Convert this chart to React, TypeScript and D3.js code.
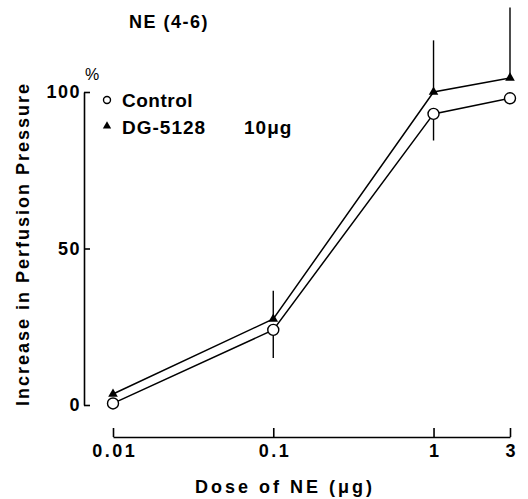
import React from 'react';
import * as d3 from 'd3';

const doses = [0.01, 0.1, 1, 3];
const doseLabels = ['0.01', '0.1', '1', '3'];
const controlValues = [0.5, 24, 93, 98];
const controlSem = [0, 9, 8.5, 0];
const dgValues = [3.5, 27.5, 100, 104.5];
const dgSem = [0, 9, 16.5, 22.5];
const yTicks = [0, 50, 100];

const FONT = '"Liberation Sans", Arial, Helvetica, sans-serif';

export default function App() {
	const ref = React.useRef<SVGSVGElement>(null);

	React.useEffect(() => {
		const svg = d3.select(ref.current);
		svg.selectAll('*').remove();

		const x = d3.scaleLog().domain([0.01, 3]).range([113, 510]);
		const y = d3.scaleLinear().domain([0, 100]).range([405, 92]);

		// title
		svg
			.append('text')
			.attr('x', 169)
			.attr('y', 28)
			.attr('text-anchor', 'middle')
			.attr('font-size', 18)
			.attr('font-weight', 'bold')
			.attr('letter-spacing', 1.5)
			.text('NE (4-6)');

		// y axis
		const yAxis = svg
			.append('g')
			.attr('transform', 'translate(84,0)')
			.call(
				d3
					.axisLeft(y)
					.tickValues(yTicks)
					.tickSize(-6)
					.tickSizeOuter(0)
					.tickPadding(3)
					.tickFormat((d) => String(d))
			);
		yAxis.select('.domain').attr('stroke-width', 1.6);
		yAxis.selectAll('.tick line').attr('stroke-width', 1.6);
		yAxis
			.selectAll('.tick text')
			.attr('font-size', 18)
			.attr('font-family', FONT)
			.attr('font-weight', 'bold')
			.attr('letter-spacing', 1.5)
			.attr('fill', '#000');

		svg
			.append('text')
			.attr('x', 92)
			.attr('y', 80)
			.attr('text-anchor', 'middle')
			.attr('font-size', 16)
			.text('%');

		// x axis
		const xAxis = svg
			.append('g')
			.attr('transform', 'translate(0,437)')
			.call(
				d3
					.axisBottom(x)
					.tickValues(doses)
					.tickSize(-9)
					.tickSizeOuter(0)
					.tickPadding(7)
					.tickFormat((d, i) => doseLabels[i])
			);
		xAxis.select('.domain').attr('stroke-width', 1.6);
		xAxis.selectAll('.tick line').attr('stroke-width', 1.6);
		xAxis
			.selectAll('.tick text')
			.attr('font-size', 18)
			.attr('font-family', FONT)
			.attr('font-weight', 'bold')
			.attr('letter-spacing', 2.5)
			.attr('dx', 1.2)
			.attr('fill', '#000');

		// axis labels
		svg
			.append('text')
			.attr('transform', 'translate(29,244) rotate(-90)')
			.attr('text-anchor', 'middle')
			.attr('font-size', 18)
			.attr('font-weight', 'bold')
			.attr('letter-spacing', 2)
			.text('Increase in Perfusion Pressure');

		svg
			.append('text')
			.attr('x', 285)
			.attr('y', 493)
			.attr('text-anchor', 'middle')
			.attr('font-size', 18)
			.attr('font-weight', 'bold')
			.attr('letter-spacing', 3)
			.text('Dose of NE (μg)');

		// legend
		const legend = svg.append('g');
		legend
			.append('circle')
			.attr('cx', 107)
			.attr('cy', 100)
			.attr('r', 3.5)
			.attr('fill', '#fff')
			.attr('stroke', '#000')
			.attr('stroke-width', 1.4);
		legend
			.append('text')
			.attr('x', 122)
			.attr('y', 107)
			.attr('font-size', 19)
			.attr('font-weight', 'bold')
			.attr('letter-spacing', 0.5)
			.text('Control');
		legend
			.append('path')
			.attr('transform', 'translate(107,126)')
			.attr('d', d3.symbol(d3.symbolTriangle, 30)());
		legend
			.append('text')
			.attr('x', 122)
			.attr('y', 134)
			.attr('font-size', 19)
			.attr('font-weight', 'bold')
			.attr('letter-spacing', 1)
			.text('DG-5128');
		legend
			.append('text')
			.attr('x', 244)
			.attr('y', 134)
			.attr('font-size', 19)
			.attr('font-weight', 'bold')
			.attr('letter-spacing', 1)
			.text('10μg');

		const plot = svg.append('g').attr('fill', 'none').attr('stroke', '#000');

		// error bars
		plot
			.selectAll('.err-dg')
			.data(doses.filter((d, i) => dgSem[i] > 0).map((d) => doses.indexOf(d)))
			.join('line')
			.attr('x1', (i) => x(doses[i]))
			.attr('x2', (i) => x(doses[i]))
			.attr('y1', (i) => y(dgValues[i]))
			.attr('y2', (i) => y(dgValues[i] + dgSem[i]))
			.attr('stroke-width', 1.4);
		plot
			.selectAll('.err-ctrl')
			.data(doses.filter((d, i) => controlSem[i] > 0).map((d) => doses.indexOf(d)))
			.join('line')
			.attr('x1', (i) => x(doses[i]))
			.attr('x2', (i) => x(doses[i]))
			.attr('y1', (i) => y(controlValues[i]))
			.attr('y2', (i) => y(controlValues[i] - controlSem[i]))
			.attr('stroke-width', 1.4);

		const line = (vals: number[]) =>
			d3
				.line<number>()
				.x((d, i) => x(doses[i]))
				.y((d) => y(d))(vals);

		plot.append('path').attr('d', line(dgValues)).attr('stroke-width', 1.5);
		plot.append('path').attr('d', line(controlValues)).attr('stroke-width', 1.5);

		// markers
		svg
			.append('g')
			.selectAll('path')
			.data(dgValues)
			.join('path')
			.attr('transform', (d, i) => `translate(${x(doses[i])},${y(d)})`)
			.attr('d', d3.symbol(d3.symbolTriangle, 40)())
			.attr('fill', '#000');

		svg
			.append('g')
			.selectAll('circle')
			.data(controlValues)
			.join('circle')
			.attr('cx', (d, i) => x(doses[i]))
			.attr('cy', (d) => y(d))
			.attr('r', 5.5)
			.attr('fill', '#fff')
			.attr('stroke', '#000')
			.attr('stroke-width', 1.4);
	}, []);

	return (
		<svg
			ref={ref}
			width={528}
			height={499}
			style={{ position: 'absolute', left: 0, top: 0, background: '#fff' }}
			fontFamily={FONT}
		/>
	);
}
